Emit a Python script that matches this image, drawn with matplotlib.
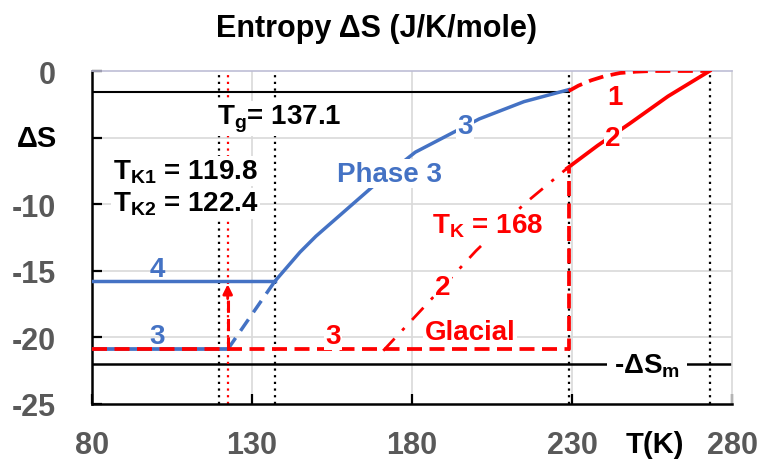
import matplotlib.pyplot as plt

plt.rcParams['font.family'] = ['Liberation Sans', 'DejaVu Sans']
plt.rcParams['font.weight'] = 'bold'
plt.rcParams['mathtext.fontset'] = 'custom'
plt.rcParams['mathtext.rm'] = 'Liberation Sans:bold'
plt.rcParams['mathtext.it'] = 'Liberation Sans:bold'
plt.rcParams['mathtext.bf'] = 'Liberation Sans:bold'

RED = '#FF0000'
BLUE = '#4472C4'
GRAY = '#595959'

# characteristic temperatures (K)
T_K1, T_K2, T_g, T_red, T_m = 119.8, 122.4, 137.1, 229.0, 273.0
S_m = -22.0          # -dSm
S_g = -1.6           # level at Tg
S_glass = -20.9      # phase 3 / glacial floor
S_ph4 = -15.8        # phase 4 level

# phase 3 (blue) curve
T_phase3 = [137.1, 145, 150, 160, 170, 181, 193, 201, 215, 229]
S_phase3 = [-15.8, -13.6, -12.4, -10.3, -8.2, -6.1, -4.6, -3.6, -2.3, -1.4]

# red curve 1 (dashed)
T_c1 = [229, 232, 236, 240, 245, 250, 255, 273]
S_c1 = [-1.5, -1.1, -0.7, -0.4, -0.15, -0.05, 0, 0]

# red curve 2 (solid, above Tred)
T_c2 = [228.5, 238, 248, 260, 273]
S_c2 = [-7.3, -5.6, -3.95, -1.9, 0]

# red curve 2 (dash-dot, below Tred)
T_c2b = [171, 185, 200, 215, 228.5]
S_c2b = [-21.0, -17.4, -13.5, -10.0, -7.3]

xticks = [80, 130, 180, 230, 280]
yticks = [0, -5, -10, -15, -20, -25]
ylabels = ['0', '', '-10', '-15', '-20', '-25']

fig = plt.figure(figsize=(7.62, 4.64), dpi=100)
ax = fig.add_axes([92 / 762, 1 - 405 / 464, 640 / 762, 333 / 464])
ax.set_xlim(80, 280)
ax.set_ylim(-25, 0)

# grid
for x in [130, 180, 230]:
    ax.axvline(x, color='#D9D9D9', lw=1.2, zorder=0)
for y in [-5, -10, -15, -20]:
    ax.axhline(y, color='#D9D9D9', lw=1.2, zorder=0)

# reference lines
ax.plot([80, T_red], [S_g, S_g], color='black', lw=1.5, zorder=2)
ax.plot([80, 280], [S_m, S_m], color='black', lw=1.8, zorder=2)
dot = (0, (1, 2))
for x in [T_K1, T_g, T_red, T_m]:
    ax.axvline(x, color='black', lw=1.6, ls=dot, zorder=2)
ax.axvline(T_K2, color=RED, lw=1.6, ls=dot, zorder=2)

# blue phases
ax.plot([80, T_g], [S_ph4, S_ph4], color=BLUE, lw=2.5, zorder=3)
ax.plot([80, T_K2], [S_glass, S_glass], color=BLUE, lw=2.7, zorder=3)
ax.plot([T_K2, T_g], [S_glass, S_ph4], color=BLUE, lw=2.5, ls=(0, (4, 2.5)), zorder=3)
ax.plot(T_phase3, S_phase3, color=BLUE, lw=2.5, zorder=3)

# red glacial path
ax.plot([80, T_red, T_red], [S_glass, S_glass, S_c2[0]], color=RED, lw=2.7,
        ls=(0, (4, 2)), zorder=4)
ax.plot([T_K2, T_K2], [S_glass, -16.9], color=RED, lw=2.2, ls=(0, (4, 2)), zorder=4)
ax.annotate('', xy=(T_K2, S_ph4), xytext=(T_K2, -17.3),
            arrowprops=dict(arrowstyle='-|>', color=RED, lw=2, mutation_scale=14),
            zorder=5)
ax.plot(T_c1, S_c1, color=RED, lw=2.7, ls=(0, (4, 2)), zorder=4)
ax.plot(T_c2, S_c2, color=RED, lw=2.7, zorder=4)
ax.plot(T_c2b, S_c2b, color=RED, lw=2.0, ls=(0, (6, 4, 1.2, 4)), zorder=4)

# annotations
wb = dict(facecolor='white', edgecolor='none', pad=1)
fs = 20
ax.text(119.2, -3.95, r'T$_{\mathrm{g}}$= 137.1', fontsize=fs, color='black',
        va='baseline', ha='left', bbox=wb, zorder=6)
ax.text(86.5, -8.05, r'T$_{\mathrm{K1}}$ = 119.8', fontsize=fs, color='black',
        va='baseline', ha='left', bbox=wb, zorder=6)
ax.text(86.5, -10.5, r'T$_{\mathrm{K2}}$ = 122.4', fontsize=fs, color='black',
        va='baseline', ha='left', bbox=wb, zorder=6)
ax.text(173, -7.7, 'Phase 3', fontsize=fs, color=BLUE, ha='center', va='center',
        bbox=wb, zorder=6)
ax.text(196.6, -4.1, '3', fontsize=fs, color=BLUE, ha='center', va='center',
        bbox=wb, zorder=6)
ax.text(203.5, -11.6, r'T$_{\mathrm{K}}$ = 168', fontsize=fs, color=RED,
        ha='center', va='center', bbox=wb, zorder=6)
ax.text(243.4, -1.95, '1', fontsize=fs, color=RED, ha='center', va='center',
        bbox=wb, zorder=6)
ax.text(242.8, -5.05, '2', fontsize=fs, color=RED, ha='center', va='center',
        bbox=wb, zorder=6)
ax.text(189.7, -16.2, '2', fontsize=fs, color=RED, ha='center', va='center',
        bbox=wb, zorder=6)
ax.text(198.1, -19.6, 'Glacial', fontsize=fs, color=RED, ha='center', va='center',
        bbox=wb, zorder=6)
ax.text(155.3, -19.9, '3', fontsize=fs, color=RED, ha='center', va='center',
        bbox=wb, zorder=6)
ax.text(100.3, -14.85, '4', fontsize=fs, color=BLUE, ha='center', va='center',
        zorder=6)
ax.text(100.3, -19.9, '3', fontsize=fs, color=BLUE, ha='center', va='center',
        zorder=6)
ax.text(253.4, -22.1, r'-$\Delta$S$_{\mathrm{m}}$', fontsize=fs, color='black',
        ha='center', va='center', bbox=dict(facecolor='white', edgecolor='none', pad=5),
        zorder=6)

# axes styling
for side in ['left', 'bottom']:
    ax.spines[side].set_linewidth(1.8)
    ax.spines[side].set_color('black')
ax.spines['top'].set_color('#BDBDD6')
ax.spines['top'].set_linewidth(1.2)
ax.spines['right'].set_color('#D9D9D9')
ax.spines['right'].set_linewidth(1.2)

ax.set_xticks(xticks)
ax.set_xticklabels([str(v) for v in xticks])
ax.set_yticks(yticks)
ax.set_yticklabels(ylabels)
ax.tick_params(axis='both', direction='in', length=7, width=1.6, color='black',
               labelsize=22, labelcolor=GRAY)
ax.tick_params(axis='x', pad=19)
ax.tick_params(axis='y', pad=26)
for lab in ax.get_xticklabels() + ax.get_yticklabels():
    lab.set_fontweight('bold')

# ΔS in place of the -5 label, T(K) between 230 and 280
ax.text(-0.055, -5, 'ΔS', transform=ax.get_yaxis_transform(), fontsize=21,
        color='black', ha='right', va='center')
ax.text(255.9, -1 * (445 - 405) / 333 * 25 - 25, 'T(K)', fontsize=21, color='black',
        ha='center', va='center', clip_on=False)

fig.text(0.494, 1 - 37 / 464, 'Entropy ΔS (J/K/mole)', fontsize=22,
         ha='center', va='baseline', color='black')

fig.savefig('out.png', dpi=100)
